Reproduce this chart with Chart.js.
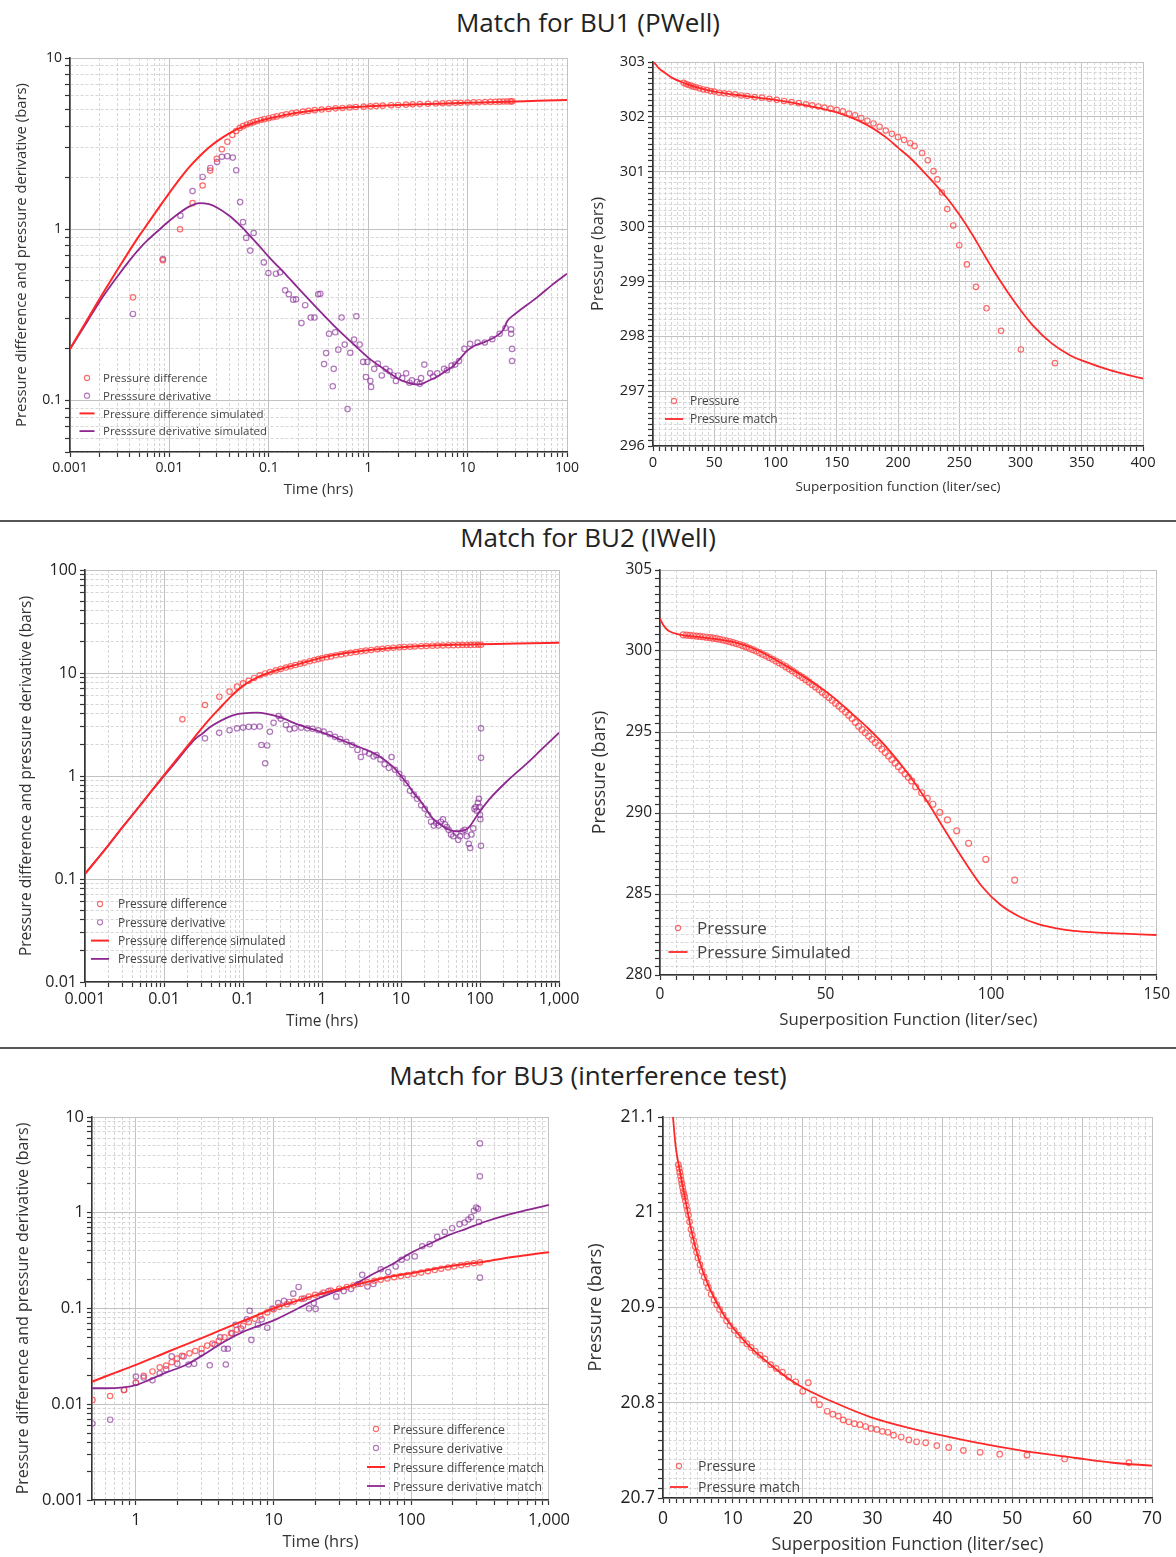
<!DOCTYPE html>
<html>
<head>
<meta charset="utf-8">
<script src="https://cdn.jsdelivr.net/npm/chart.js@4.4.1/dist/chart.umd.min.js"></script>
<style>
  body { margin: 0; background: #fff; font-family: 'Open Sans', sans-serif; }
  #page { position: relative; width: 1176px; height: 1557px; overflow: hidden; }
  .title { position: absolute; left: 0; width: 1176px; text-align: center; font-size: 26px; line-height: 34px; color: #222; }
  .sep { position: absolute; left: 0; width: 1176px; height: 2px; background: #555; }
  .panel { position: absolute; }
</style>
</head>
<body>
<div id="page">
  <div class="title" style="top:5px">Match for BU1 (PWell)</div>
  <div class="sep" style="top:520px"></div>
  <div class="title" style="top:520px">Match for BU2 (IWell)</div>
  <div class="sep" style="top:1047px"></div>
  <div class="title" style="top:1058px">Match for BU3 (interference test)</div>
</div>
<script>
// ---- BU1 (PWell) log-log: [time hrs, bars]
const bu1Diff = [[0.0043,0.40],[0.0086,0.66],[0.0128,1.0],[0.0171,1.42],[0.0216,1.8],[0.0257,2.2],[0.030,2.58],[0.0337,2.93],[0.0383,3.24],[0.043,3.55],[0.047,3.75],[0.051,3.9],[0.055,4.0],[0.06,4.09],[0.065,4.16],[0.07,4.22],[0.076,4.28],[0.083,4.34],[0.09,4.39],[0.1,4.45],[0.11,4.51],[0.12,4.56],[0.135,4.63],[0.15,4.69],[0.17,4.75],[0.19,4.8],[0.22,4.86],[0.25,4.91],[0.29,4.96],[0.34,5.0],[0.4,5.04],[0.47,5.08],[0.55,5.11],[0.65,5.14],[0.75,5.17],[0.9,5.2],[1.05,5.22],[1.2,5.25],[1.4,5.27],[1.7,5.3],[2,5.32],[2.4,5.34],[2.8,5.36],[3.3,5.38],[4,5.4],[4.8,5.42],[5.6,5.44],[6.5,5.45],[7.5,5.47],[8.5,5.48],[10,5.49],[11.5,5.51],[13,5.52],[15,5.53],[17,5.54],[19,5.55],[21,5.56],[23,5.57],[25,5.57],[27,5.58],[28,5.58]];
const bu1Deriv = [[0.0043,0.32],[0.0086,0.67],[0.0129,1.2],[0.0171,1.67],[0.0216,2.02],[0.0258,2.28],[0.0302,2.47],[0.0337,2.65],[0.0383,2.67],[0.0434,2.62],[0.047,2.21],[0.0515,1.44],[0.055,1.1],[0.0593,0.89],[0.065,0.75],[0.0704,0.95],[0.0891,0.64],[0.099,0.555],[0.118,0.55],[0.13,0.56],[0.146,0.44],[0.159,0.417],[0.176,0.388],[0.188,0.39],[0.213,0.283],[0.232,0.36],[0.264,0.305],[0.288,0.305],[0.314,0.417],[0.33,0.42],[0.36,0.163],[0.377,0.189],[0.404,0.245],[0.44,0.121],[0.45,0.153],[0.466,0.25],[0.5,0.198],[0.54,0.305],[0.58,0.212],[0.62,0.089],[0.66,0.19],[0.72,0.227],[0.76,0.31],[0.82,0.212],[0.89,0.168],[0.95,0.137],[0.98,0.168],[1.05,0.13],[1.07,0.12],[1.15,0.153],[1.25,0.164],[1.37,0.14],[1.5,0.153],[1.64,0.148],[1.79,0.14],[1.9,0.13],[2.0,0.14],[2.2,0.135],[2.41,0.144],[2.6,0.127],[2.75,0.131],[3.1,0.128],[3.3,0.125],[3.4,0.135],[3.67,0.162],[4.2,0.144],[4.5,0.138],[4.95,0.144],[5.8,0.153],[6.2,0.15],[6.9,0.16],[7.5,0.162],[8.2,0.17],[9.3,0.2],[10.6,0.214],[12.6,0.218],[14.9,0.218],[17.7,0.228],[21,0.245],[24,0.265],[27.4,0.26],[27.4,0.245],[28,0.2],[28,0.17]];
const bu1DiffSim = [[0.001,0.2],[0.002,0.395],[0.003,0.58],[0.004,0.755],[0.005,0.92],[0.006,1.07],[0.008,1.36],[0.01,1.63],[0.013,2.0],[0.016,2.32],[0.02,2.66],[0.025,3.0],[0.03,3.26],[0.04,3.63],[0.05,3.88],[0.06,4.05],[0.08,4.28],[0.1,4.43],[0.15,4.66],[0.2,4.8],[0.3,4.96],[0.5,5.1],[1,5.22],[2,5.31],[5,5.41],[10,5.47],[20,5.54],[50,5.62],[100,5.68]];
const bu1DerivSim = [[0.001,0.2],[0.0015,0.29],[0.002,0.38],[0.003,0.53],[0.004,0.66],[0.005,0.77],[0.006,0.86],[0.008,1.0],[0.01,1.12],[0.013,1.26],[0.016,1.36],[0.02,1.42],[0.025,1.4],[0.03,1.34],[0.04,1.2],[0.05,1.07],[0.06,0.96],[0.08,0.8],[0.1,0.69],[0.15,0.54],[0.2,0.45],[0.3,0.35],[0.5,0.258],[0.7,0.215],[1,0.178],[1.5,0.15],[2,0.134],[2.5,0.127],[3,0.124],[3.5,0.125],[4,0.13],[5,0.138],[6,0.148],[7,0.157],[8,0.17],[10,0.196],[12,0.21],[15,0.22],[20,0.24],[23,0.26],[25,0.29],[30,0.32],[50,0.4],[70,0.47],[100,0.55]];

// ---- BU1 superposition: [liter/sec, bars]
const bu1Pres = [[25,302.62],[27,302.6],[29,302.58],[31,302.57],[33,302.55],[35,302.54],[38,302.52],[41,302.5],[44,302.49],[47,302.47],[50,302.46],[54,302.44],[58,302.43],[62,302.42],[67,302.41],[72,302.39],[77,302.38],[83,302.36],[89,302.35],[95,302.33],[101,302.31],[107,302.29],[113,302.27],[119,302.25],[125,302.23],[130,302.21],[135,302.19],[140,302.17],[145,302.15],[150,302.13],[155,302.1],[160,302.06],[165,302.03],[170,301.98],[175,301.93],[180,301.88],[185,301.82],[190,301.75],[195,301.69],[200,301.63],[205,301.58],[210,301.52],[213.5,301.47],[219.7,301.34],[224.3,301.21],[229,301.01],[232.1,300.86],[235.8,300.62],[240.2,300.32],[245.1,300.02],[250,299.66],[256.2,299.31],[263.6,298.9],[272.3,298.51],[284.1,298.1],[300.3,297.76],[328.2,297.51]];
const bu1PresSim = [[0,303],[2,302.96],[5,302.88],[10,302.8],[15,302.72],[25,302.62],[35,302.54],[50,302.46],[75,302.38],[100,302.31],[125,302.21],[150,302.08],[175,301.85],[190,301.63],[200,301.44],[210,301.25],[220,301.02],[230,300.78],[240,300.52],[250,300.22],[260,299.88],[270,299.5],[280,299.13],[290,298.79],[300,298.48],[310,298.2],[325,297.88],[340,297.66],[350,297.56],[375,297.37],[400,297.23]];

// ---- BU2 (IWell) log-log
const bu2Diff = [[0.0171,3.55],[0.033,4.89],[0.0502,5.89],[0.0676,6.59],[0.084,7.37],[0.1,7.94],[0.118,8.4],[0.138,8.95],[0.163,9.5],[0.19,9.9],[0.22,10.2],[0.26,10.6],[0.3,10.95],[0.35,11.3],[0.4,11.6],[0.46,11.95],[0.53,12.3],[0.6,12.6],[0.7,13.0],[0.8,13.35],[0.9,13.65],[1.0,13.9],[1.15,14.25],[1.3,14.5],[1.5,14.85],[1.75,15.15],[2,15.45],[2.3,15.7],[2.7,16.0],[3.1,16.25],[3.6,16.5],[4.2,16.75],[5,17.0],[5.8,17.2],[6.8,17.4],[8,17.6],[9.5,17.75],[11,17.9],[13,18.0],[15,18.1],[18,18.2],[21,18.3],[25,18.4],[29,18.45],[34,18.5],[40,18.55],[46,18.6],[53,18.65],[60,18.7],[68,18.72],[76,18.75],[85,18.78],[95,18.8],[103,18.82]];
const bu2Deriv = [[0.033,2.32],[0.05,2.63],[0.0676,2.78],[0.084,2.9],[0.1,2.95],[0.118,3.0],[0.138,3.0],[0.163,3.02],[0.171,2.0],[0.191,1.33],[0.202,1.98],[0.219,2.69],[0.244,3.29],[0.282,3.82],[0.3,3.6],[0.35,3.13],[0.39,2.84],[0.45,2.9],[0.544,2.95],[0.65,2.9],[0.76,2.88],[0.9,2.78],[1.05,2.7],[1.25,2.55],[1.46,2.4],[1.7,2.28],[2.03,2.15],[2.4,2.0],[2.81,1.79],[3.1,1.53],[3.5,1.72],[3.95,1.65],[4.5,1.55],[4.89,1.6],[5.5,1.45],[6.2,1.3],[7.0,1.2],[7.6,1.53],[8.4,1.15],[9.5,1.05],[10.5,0.95],[11.7,0.85],[13,0.72],[14.5,0.66],[16,0.6],[18,0.52],[20,0.48],[22,0.42],[24,0.36],[26,0.33],[28,0.35],[30,0.33],[32,0.36],[34,0.38],[36,0.34],[38,0.32],[40,0.3],[43,0.27],[46,0.26],[50,0.28],[53,0.24],[56,0.26],[60,0.29],[64,0.3],[68,0.26],[72,0.22],[75,0.2],[78,0.27],[82,0.31],[85,0.48],[88,0.5],[91,0.46],[94,0.55],[97,0.6],[99,0.5],[100,0.42],[101,0.38],[103,2.9],[103,1.5],[103,0.21]];
const bu2DiffSim = [[0.001,0.112],[0.002,0.215],[0.003,0.32],[0.005,0.52],[0.007,0.72],[0.01,1.02],[0.015,1.5],[0.02,1.97],[0.03,2.9],[0.04,3.75],[0.05,4.5],[0.07,5.9],[0.1,7.5],[0.15,9.0],[0.2,9.9],[0.3,10.95],[0.5,12.2],[0.7,13.1],[1,14.1],[2,15.6],[3,16.3],[5,17.0],[10,17.8],[20,18.35],[50,18.8],[100,19.0],[300,19.3],[1000,19.7]];
const bu2DerivSim = [[0.001,0.112],[0.002,0.215],[0.003,0.32],[0.005,0.52],[0.007,0.72],[0.01,1.0],[0.015,1.45],[0.02,1.9],[0.025,2.3],[0.03,2.55],[0.04,3.05],[0.06,3.63],[0.08,3.95],[0.1,4.06],[0.15,4.12],[0.2,4.02],[0.3,3.7],[0.5,3.15],[0.7,2.9],[1,2.65],[2,2.15],[3,1.9],[5,1.6],[8,1.22],[10,1.0],[12,0.84],[15,0.66],[18,0.56],[25,0.39],[35,0.32],[50,0.29],[70,0.31],[95,0.43],[130,0.59],[230,0.92],[400,1.34],[600,1.81],[1000,2.63]];

// ---- BU2 superposition
const bu2Pres = [[7,301.0],[8,300.98],[9,300.96],[10,300.94],[11,300.92],[12,300.9],[13,300.88],[14,300.85],[15,300.82],[16,300.79],[17,300.76],[18,300.72],[19,300.68],[20,300.63],[21,300.58],[22,300.52],[23,300.46],[24,300.4],[25,300.33],[26,300.25],[27,300.17],[28,300.09],[29,300.0],[30,299.9],[31,299.8],[32,299.7],[33,299.6],[34,299.49],[35,299.38],[36,299.27],[37,299.15],[38,299.03],[39,298.9],[40,298.77],[41,298.64],[42,298.5],[43,298.37],[44,298.23],[45,298.08],[46,297.93],[47,297.78],[48,297.62],[49,297.46],[50,297.3],[51,297.13],[52,296.96],[53,296.78],[54,296.6],[55,296.42],[56,296.23],[57,296.04],[58,295.84],[59,295.6],[60,295.35],[61,295.15],[62,294.95],[63,294.75],[64,294.55],[65,294.35],[66,294.15],[67,293.94],[68,293.73],[69,293.52],[70,293.3],[71,293.08],[72,292.86],[73,292.64],[74,292.42],[75,292.2],[76,291.98],[77.2,291.62],[79,291.25],[80.7,290.9],[82.4,290.54],[84.5,290.04],[86.8,289.57],[89.6,288.9],[93.2,288.13],[98.4,287.14],[107.1,285.86]];
const bu2PresSim = [[0,302.0],[1,301.6],[2,301.35],[3,301.2],[5,301.05],[8,300.95],[12,300.85],[18,300.7],[24,300.45],[30,300.0],[35,299.45],[40,298.85],[46.6,298.0],[52,297.2],[57.9,296.15],[63,295.2],[69.1,293.9],[74.8,292.45],[80.4,290.8],[86,288.95],[91.7,287.1],[97.3,285.45],[102.9,284.32],[108.6,283.6],[114,283.15],[119.8,282.88],[125,282.72],[131.1,282.63],[140,282.55],[150,282.47]];

// ---- BU3 (interference test) log-log
const bu3Diff = [[0.484,0.0111],[0.65,0.0122],[0.82,0.0141],[1.0,0.0168],[1.14,0.0198],[1.32,0.022],[1.49,0.0243],[1.66,0.0253],[1.82,0.0275],[1.99,0.03],[2.16,0.032],[2.45,0.034],[2.7,0.036],[3.0,0.038],[3.3,0.041],[3.6,0.043],[4.0,0.046],[4.4,0.05],[4.9,0.055],[5.4,0.06],[6,0.066],[6.6,0.072],[7.3,0.078],[8,0.084],[9,0.091],[10,0.098],[11,0.104],[12.5,0.111],[14,0.118],[16,0.126],[18,0.133],[20,0.139],[23,0.147],[26,0.154],[30,0.161],[34,0.168],[38,0.174],[43,0.181],[48,0.188],[54,0.195],[60,0.2],[67,0.206],[75,0.212],[84,0.218],[94,0.224],[105,0.23],[118,0.237],[132,0.245],[148,0.252],[165,0.26],[185,0.268],[205,0.275],[230,0.283],[255,0.29],[285,0.297],[315,0.303]];
const bu3Deriv = [[0.484,0.0063],[0.65,0.0069],[0.82,0.0141],[1.0,0.0195],[1.0,0.0168],[1.14,0.019],[1.32,0.0178],[1.49,0.021],[1.66,0.0232],[1.82,0.0316],[2.0,0.0264],[2.22,0.0316],[2.41,0.026],[2.65,0.0265],[3.0,0.034],[3.44,0.0255],[3.73,0.0418],[4.1,0.05],[4.37,0.038],[4.5,0.026],[4.65,0.038],[5.0,0.0553],[5.3,0.0676],[5.8,0.0617],[6.4,0.077],[6.7,0.0946],[6.9,0.047],[7.7,0.0676],[8.2,0.077],[9.0,0.063],[9.8,0.1],[10.8,0.114],[11.9,0.12],[13,0.117],[13.9,0.143],[15.2,0.168],[16.7,0.127],[18.1,0.1],[19.6,0.114],[20.2,0.099],[22.2,0.14],[25.1,0.152],[28.5,0.133],[32.3,0.152],[36.5,0.16],[41,0.18],[44,0.225],[48,0.17],[53,0.18],[60,0.257],[68,0.24],[77,0.275],[85,0.323],[93,0.34],[106,0.35],[120,0.447],[136,0.47],[154,0.56],[175,0.63],[198,0.69],[224,0.76],[244,0.79],[260,0.85],[272,0.9],[285,1.05],[296,1.13],[305,1.1],[310,0.8],[315,5.3],[315,2.4],[315,0.21]];
const bu3DiffSim = [[0.48,0.0172],[0.6,0.0195],[0.8,0.0228],[1,0.0258],[1.5,0.0327],[2,0.0388],[3,0.049],[4,0.0583],[5,0.0666],[7,0.081],[10,0.1],[15,0.121],[20,0.137],[28.5,0.157],[40,0.178],[53,0.196],[70,0.215],[100,0.234],[150,0.26],[200,0.279],[347,0.31],[500,0.338],[700,0.362],[1000,0.388]];
const bu3DerivSim = [[0.48,0.0147],[0.6,0.0147],[0.81,0.015],[1,0.0158],[1.25,0.018],[1.6,0.021],[2.34,0.026],[3,0.032],[4.37,0.045],[6,0.057],[10.2,0.076],[15,0.1],[20.8,0.126],[30,0.155],[38.9,0.18],[50,0.22],[72.7,0.29],[99,0.38],[130,0.46],[185,0.58],[250,0.68],[347,0.81],[500,0.95],[700,1.07],[1000,1.21]];

// ---- BU3 superposition
const bu3Pres = [[2.2,21.05],[2.3,21.046],[2.4,21.042],[2.5,21.038],[2.6,21.034],[2.7,21.03],[2.8,21.026],[2.9,21.022],[3.0,21.019],[3.1,21.016],[3.2,21.012],[3.35,21.007],[3.5,21.002],[3.65,20.997],[3.8,20.99],[4.0,20.982],[4.2,20.976],[4.4,20.97],[4.6,20.964],[4.8,20.958],[5.0,20.952],[5.3,20.945],[5.6,20.938],[5.9,20.932],[6.2,20.926],[6.5,20.921],[6.9,20.914],[7.3,20.908],[7.7,20.903],[8.1,20.898],[8.6,20.892],[9.1,20.886],[9.6,20.881],[10.2,20.876],[10.8,20.871],[11.4,20.866],[12.0,20.862],[12.6,20.858],[13.2,20.854],[13.9,20.85],[14.6,20.846],[15.4,20.84],[16.2,20.836],[17.1,20.832],[18.0,20.827],[19.0,20.822],[20.0,20.812],[20.8,20.821],[21.6,20.803],[22.4,20.798],[23.5,20.791],[24.3,20.788],[25.1,20.786],[25.8,20.782],[26.6,20.78],[27.4,20.778],[28.2,20.777],[29.0,20.775],[29.8,20.773],[30.6,20.772],[31.4,20.77],[32.2,20.769],[33.0,20.766],[34.1,20.764],[35.2,20.761],[36.3,20.759],[37.6,20.758],[39.2,20.755],[40.9,20.753],[43.0,20.75],[45.4,20.748],[48.2,20.746],[52.1,20.745],[57.5,20.741],[66.7,20.737]];
const bu3PresSim = [[1.43,21.1],[1.8,21.07],[2.4,21.044],[3.2,21.013],[4.0,20.983],[5.07,20.952],[6.67,20.92],[8.8,20.891],[12.0,20.862],[15.2,20.841],[19.5,20.818],[24.3,20.801],[29.7,20.785],[35,20.774],[40.4,20.765],[45.7,20.757],[51.1,20.75],[59.1,20.742],[64.4,20.737],[70,20.734]];

const FONT = "'Open Sans', sans-serif";
const RED = 'rgb(255,40,40)';
const RED_PT = 'rgba(255,70,70,0.8)';
const PURPLE = 'rgb(142,40,145)';
const PURPLE_PT = 'rgba(135,45,150,0.65)';
const page = document.getElementById('page');
Chart.defaults.font.family = FONT;

function toXY(a) { return a.map(p => ({ x: p[0], y: p[1] })); }

function logTicks(min, max) {
  const out = [];
  for (let d = Math.floor(Math.log10(min)); d <= Math.ceil(Math.log10(max)); d++) {
    for (let m = 1; m <= 9; m++) {
      const v = parseFloat((m * Math.pow(10, d)).toPrecision(6));
      if (v >= min * 0.9999 && v <= max * 1.0001) out.push({ value: v, major: m === 1 });
    }
  }
  return out;
}

function linTicks(min, max, step, every) {
  const out = [];
  const n = Math.round((max - min) / step);
  for (let i = 0; i <= n; i++) out.push({ value: parseFloat((min + i * step).toFixed(6)), major: i % every === 0 });
  return out;
}

function logLabel(v) {
  if (v >= 1000) return v.toLocaleString('en-US');
  return String(parseFloat(v.toPrecision(6)));
}

function axis(o) {
  return {
    type: o.log ? 'logarithmic' : 'linear',
    min: o.min,
    max: o.max,
    afterBuildTicks: s => { s.ticks = o.ticks.map(t => ({ value: t.value, major: t.major })); },
    afterFit: s => {
      if (o.width) s.width = o.width;
      if (o.height) s.height = o.height;
    },
    title: { display: true, text: o.title, color: '#333', font: { family: FONT, size: o.titleSize }, padding: { top: 4, bottom: 4 } },
    ticks: {
      autoSkip: false, maxRotation: 0, color: '#222', padding: o.pad || 3,
      font: { family: FONT, size: o.tickSize },
      callback: (v, i, t) => t[i] && t[i].major ? o.fmt(v) : ''
    },
    grid: {
      color: c => (c.tick && c.tick.major) ? '#c2c2c2' : '#d6d6d6',
      lineWidth: 1, tickLength: 5, tickColor: '#333', tickWidth: 1.2
    },
    border: {
      display: true, color: '#333', width: 1.6,
      dash: c => (c.tick && !c.tick.major) ? [3, 2] : []
    }
  };
}

const insideLegend = {
  id: 'insideLegend',
  afterDatasetsDraw(chart, args, o) {
    if (!o || !o.items) return;
    const ctx = chart.ctx;
    ctx.save();
    ctx.font = o.size + 'px ' + FONT;
    ctx.textBaseline = 'middle';
    o.items.forEach((it, i) => {
      const x = o.x - o.ox, y = o.y - o.oy + i * o.gap;
      const ds = chart.data.datasets[it.ds];
      if (ds.showLine) {
        ctx.strokeStyle = ds.borderColor;
        ctx.lineWidth = ds.borderWidth;
        ctx.beginPath();
        ctx.moveTo(x - o.len / 2, y);
        ctx.lineTo(x + o.len / 2, y);
        ctx.stroke();
      } else {
        ctx.strokeStyle = ds.pointBorderColor;
        ctx.lineWidth = 1.1;
        ctx.beginPath();
        ctx.arc(x, y, 2.6, 0, Math.PI * 2);
        ctx.stroke();
      }
      ctx.fillStyle = '#444';
      ctx.fillText(it.text, x + o.tx, y + 1);
    });
    ctx.restore();
  }
};

function pts(data, color, r) {
  return { data: toXY(data), showLine: false, pointRadius: r, pointBorderWidth: 1.2,
    pointBorderColor: color, pointBackgroundColor: 'rgba(0,0,0,0)', borderColor: color };
}
function curve(data, color, w) {
  return { data: toXY(data), showLine: true, pointRadius: 0, borderColor: color, borderWidth: w,
    cubicInterpolationMode: 'monotone', fill: false };
}

function makeChart(box, datasets, xa, ya, legend) {
  const left = box.L - box.yw, top = box.T - 14;
  const w = box.R + box.pr - left, h = box.B + box.xh - top;
  const div = document.createElement('div');
  div.className = 'panel';
  div.style.cssText = 'left:' + left + 'px;top:' + top + 'px;width:' + w + 'px;height:' + h + 'px';
  const cv = document.createElement('canvas');
  cv.width = w; cv.height = h;
  div.appendChild(cv);
  page.appendChild(div);
  xa.height = box.xh;
  ya.width = box.yw;
  legend.ox = left; legend.oy = top;
  new Chart(cv, {
    type: 'scatter',
    data: { datasets: datasets },
    options: {
      responsive: false, animation: false, devicePixelRatio: 1,
      layout: { padding: { top: 14, right: box.pr, bottom: 0, left: 0 } },
      scales: { x: axis(xa), y: axis(ya) },
      plugins: { legend: { display: false }, tooltip: { enabled: false }, insideLegend: legend }
    },
    plugins: [insideLegend]
  });
}

// Chart 1: BU1 log-log
makeChart({ L: 70, T: 58, R: 567, B: 452, yw: 61, xh: 51, pr: 16 },
  [curve(bu1DiffSim, RED, 2), curve(bu1DerivSim, PURPLE, 1.8), pts(bu1Diff, RED_PT, 2.7), pts(bu1Deriv, PURPLE_PT, 2.7)],
  { log: true, min: 0.001, max: 100, ticks: logTicks(0.001, 100), fmt: logLabel, title: 'Time (hrs)', titleSize: 15, tickSize: 14 },
  { log: true, min: 0.05, max: 10, ticks: logTicks(0.05, 10), fmt: logLabel, title: 'Pressure difference and pressure derivative (bars)', titleSize: 14.8, tickSize: 14 },
  { x: 87, y: 378, gap: 17.7, tx: 16, len: 15, size: 11.5, items: [
    { ds: 2, text: 'Pressure difference' }, { ds: 3, text: 'Presssure derivative' },
    { ds: 0, text: 'Pressure difference simulated' }, { ds: 1, text: 'Presssure derivative simulated' }] });

// Chart 2: BU1 superposition
makeChart({ L: 653, T: 62, R: 1143, B: 446, yw: 68, xh: 53, pr: 22 },
  [curve(bu1PresSim, RED, 1.8), pts(bu1Pres, RED_PT, 2.7)],
  { min: 0, max: 400, ticks: linTicks(0, 400, 5, 10), fmt: v => String(v), title: 'Superposition function (liter/sec)', titleSize: 13.5, tickSize: 14.7 },
  { min: 296, max: 303, ticks: linTicks(296, 303, 0.1, 10), fmt: v => String(Math.round(v)), title: 'Pressure (bars)', titleSize: 16.3, tickSize: 14.7 },
  { x: 674, y: 401, gap: 18, tx: 16, len: 18, size: 12, items: [
    { ds: 1, text: 'Pressure' }, { ds: 0, text: 'Pressure match' }] });

// Chart 3: BU2 log-log
makeChart({ L: 85, T: 570, R: 559, B: 982, yw: 72, xh: 53, pr: 24 },
  [curve(bu2DiffSim, RED, 2), curve(bu2DerivSim, PURPLE, 1.8), pts(bu2Diff, RED_PT, 2.7), pts(bu2Deriv, PURPLE_PT, 2.7)],
  { log: true, min: 0.001, max: 1000, ticks: logTicks(0.001, 1000), fmt: logLabel, title: 'Time (hrs)', titleSize: 15.5, tickSize: 16 },
  { log: true, min: 0.01, max: 100, ticks: logTicks(0.01, 100), fmt: logLabel, title: 'Pressure difference and pressure derivative (bars)', titleSize: 15.5, tickSize: 16 },
  { x: 100, y: 904, gap: 18.3, tx: 18, len: 18, size: 12, items: [
    { ds: 2, text: 'Pressure difference' }, { ds: 3, text: 'Pressure derivative' },
    { ds: 0, text: 'Pressure difference simulated' }, { ds: 1, text: 'Pressure derivative simulated' }] });

// Chart 4: BU2 superposition
makeChart({ L: 660, T: 570, R: 1157, B: 975, yw: 75, xh: 59, pr: 18 },
  [curve(bu2PresSim, RED, 1.8), pts(bu2Pres, RED_PT, 3)],
  { min: 0, max: 150, ticks: linTicks(0, 150, 5, 10), fmt: v => String(v), title: 'Superposition Function (liter/sec)', titleSize: 16.8, tickSize: 15.5, pad: 5 },
  { min: 280, max: 305, ticks: linTicks(280, 305, 0.5, 10), fmt: v => String(Math.round(v)), title: 'Pressure (bars)', titleSize: 17.6, tickSize: 15.5 },
  { x: 678, y: 928, gap: 24, tx: 19, len: 19, size: 17, items: [
    { ds: 1, text: 'Pressure' }, { ds: 0, text: 'Pressure Simulated' }] });

// Chart 5: BU3 log-log
makeChart({ L: 92, T: 1117, R: 553, B: 1500, yw: 82, xh: 56, pr: 22 },
  [curve(bu3DiffSim, RED, 2), curve(bu3DerivSim, PURPLE, 1.8), pts(bu3Diff, RED_PT, 2.7), pts(bu3Deriv, PURPLE_PT, 2.7)],
  { log: true, min: 0.48, max: 1000, ticks: logTicks(0.48, 1000), fmt: logLabel, title: 'Time (hrs)', titleSize: 16.4, tickSize: 16.5, pad: 5 },
  { log: true, min: 0.001, max: 10, ticks: logTicks(0.001, 10), fmt: logLabel, title: 'Pressure difference and pressure derivative (bars)', titleSize: 16, tickSize: 16.5 },
  { x: 376, y: 1429, gap: 19, tx: 17, len: 18, size: 12.3, items: [
    { ds: 2, text: 'Pressure difference' }, { ds: 3, text: 'Pressure derivative' },
    { ds: 0, text: 'Pressure difference match' }, { ds: 1, text: 'Pressure derivative match' }] });

// Chart 6: BU3 superposition
makeChart({ L: 663, T: 1117, R: 1152, B: 1498, yw: 82, xh: 62, pr: 20 },
  [curve(bu3PresSim, RED, 1.8), pts(bu3Pres, RED_PT, 2.8)],
  { min: 0, max: 70, ticks: linTicks(0, 70, 1, 10), fmt: v => String(v), title: 'Superposition Function (liter/sec)', titleSize: 17.7, tickSize: 17.5, pad: 6 },
  { min: 20.7, max: 21.1, ticks: linTicks(20.7, 21.1, 0.01, 10), fmt: v => String(parseFloat(v.toFixed(2))), title: 'Pressure (bars)', titleSize: 18.3, tickSize: 17.5 },
  { x: 679, y: 1466, gap: 21, tx: 19, len: 18, size: 14, items: [
    { ds: 1, text: 'Pressure' }, { ds: 0, text: 'Pressure match' }] });
</script>
</body>
</html>
